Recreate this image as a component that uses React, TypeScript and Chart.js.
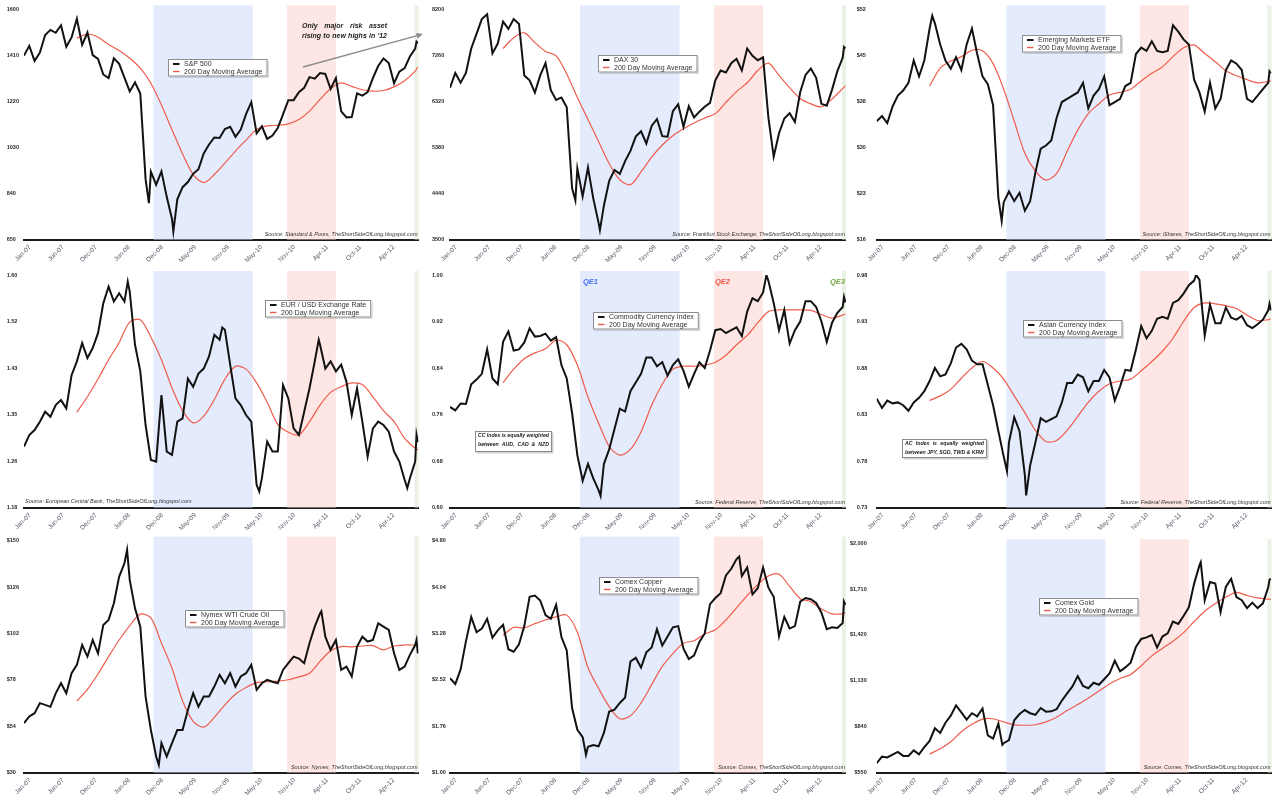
import React, { useEffect, useRef } from 'react';
import { Chart, registerables } from 'chart.js';

Chart.register(...registerables);

const FONT = '"Liberation Sans", Arial, sans-serif';

// x positions: weeks since first week of Jan 2007
const weeks = [0,4,8,12,16,20,24,28,32,36,40,44,48,52,56,60,64,68,72,76,80,84,88,92,96,100,104,108,112,116,120,124,128,132,136,140,144,148,152,156,160,164,168,172,176,180,184,188,192,196,200,204,208,212,216,220,224,228,232,236,240,244,248,252,256,260,264,268,272,276,280,284,288,292,296,297,298];
const maWeeks = [40,48,56,64,72,80,88,96,104,112,120,128,136,144,152,160,168,176,184,192,200,208,216,224,232,240,248,256,264,272,280,288,296,298];
const tickWeeks = [0,25,50,75,100,125,150,175,200,225,250,275];
const tickLabels = ['Jan-07','Jun-07','Dec-07','Jun-08','Dec-08','May-09','Nov-09','May-10','Nov-10','Apr-11','Oct-11','Apr-12'];

// QE1, QE2, QE3 shaded periods (weeks)
const qeStart = [98, 199, 295.5];
const qeEnd = [173, 236, 298.5];
const qeColors = ['rgba(222,232,252,0.85)', 'rgba(253,226,222,0.85)', 'rgba(232,240,226,0.9)'];

// S&P 500
const spx = [1409,1449,1387,1421,1494,1515,1503,1534,1445,1484,
  1561,1453,1504,1411,1395,1331,1316,1398,1375,1318,
  1261,1298,1252,899,930,876,931,826,735,816,
  866,887,921,940,1005,1042,1071,1069,1106,1115,
  1074,1104,1167,1217,1088,1117,1065,1079,1110,1166,
  1225,1225,1258,1276,1320,1314,1337,1333,1271,1316,
  1179,1154,1155,1253,1244,1258,1316,1366,1397,1378,
  1295,1343,1357,1405,1438,1466,1460];
const spxExW = [94.5, 113];
const spxExV = [800, 683];
const spxMA = [1481,1498,1485,1455,1430,1398,1357,1295,1205,1103,1003,918,885,918,965,1015,1060,1104,1119,1121,1127,1145,1180,1228,1272,1296,1282,1268,1262,1265,1280,1305,1345,1362];
const spxTicks = [650,840,1030,1220,1410,1600];
const spxLabels = ['650','840','1030','1220','1410','1600'];

// DAX 30
const dax = [6600,6900,6700,6900,7400,7700,8000,8100,7300,7500,
  7950,7800,8000,7900,6850,6750,6500,6850,7100,6550,
  6350,6400,6200,4550,4950,4380,4970,4340,3840,4190,
  4700,4920,4840,5100,5310,5600,5710,5460,5820,5960,
  5610,5600,6120,6260,5800,6220,5990,6110,6210,6290,
  6750,6950,6910,7100,7190,6950,7400,7250,7160,7220,
  5990,5190,5670,5970,6080,5900,6510,6860,6990,6800,
  6270,6230,6560,6940,7210,7430,7400];
const daxExW = [94.5, 113];
const daxExV = [4300, 3690];
const daxMA = [7400,7620,7720,7520,7340,7250,6880,6400,5950,5500,5050,4720,4620,4880,5180,5430,5620,5760,5880,5980,6070,6300,6520,6700,6950,7100,6850,6600,6380,6270,6210,6370,6580,6640];
const daxTicks = [3500,4440,5380,6320,7260,8200];
const daxLabels = ['3500','4440','5380','6320','7260','8200'];

// Emerging Markets ETF
const eem = [34.5,35.3,34.2,36.8,38.5,39.3,40.5,44.0,41.5,44.0,
  49.0,49.8,46.5,44.0,42.7,44.5,42.5,46.5,49.0,45.0,
  41.5,40.3,37.0,22.5,21.8,23.5,22.0,23.3,20.5,22.0,
  26.5,30.2,30.7,31.5,35.0,37.5,38.0,38.5,39.0,40.5,
  36.5,38.5,39.5,41.5,37.0,37.5,38.0,40.0,40.5,45.0,
  46.0,45.5,47.0,45.5,45.3,45.5,49.5,48.5,47.3,46.5,
  41.0,39.0,36.0,40.5,36.5,38.0,42.5,44.0,43.5,42.5,
  38.0,37.5,38.5,39.5,40.5,42.3,42.0];
const eemExW = [42, 94.5];
const eemExV = [51.0, 18.9];
const eemMA = [40.0,42.8,43.9,44.6,45.6,45.5,43.5,39.5,34.5,29.5,26.7,25.3,26.3,29.8,33.1,35.7,37.2,38.6,39.0,39.5,40.8,42.0,43.0,44.6,46.0,46.4,45.1,43.8,42.4,41.6,41.0,40.5,40.7,40.8];
const eemTicks = [16,23.2,30.4,37.6,44.8,52];
const eemLabels = ['$16','$23','$30','$38','$45','$52'];

// EUR / USD
const eur = [1.290,1.311,1.320,1.335,1.353,1.344,1.365,1.374,1.359,1.419,
  1.444,1.477,1.450,1.468,1.495,1.549,1.579,1.552,1.567,1.552,
  1.570,1.474,1.426,1.329,1.266,1.263,1.383,1.281,1.275,1.335,
  1.341,1.413,1.398,1.422,1.431,1.453,1.492,1.483,1.501,1.438,
  1.377,1.365,1.347,1.335,1.221,1.233,1.299,1.281,1.281,1.401,
  1.377,1.323,1.311,1.353,1.395,1.444,1.474,1.431,1.444,1.426,
  1.438,1.407,1.347,1.395,1.335,1.272,1.323,1.335,1.329,1.317,
  1.281,1.263,1.230,1.233,1.263,1.311,1.298];
const eurExW = [78.5, 150, 178, 223, 290];
const eurExV = [1.588, 1.505, 1.209, 1.483, 1.215];
const eurMA = [1.352,1.380,1.412,1.447,1.478,1.515,1.519,1.488,1.447,1.396,1.355,1.333,1.345,1.375,1.412,1.435,1.430,1.405,1.370,1.330,1.316,1.311,1.335,1.365,1.388,1.398,1.405,1.402,1.380,1.355,1.335,1.305,1.287,1.284];
const eurTicks = [1.18,1.264,1.348,1.432,1.516,1.60];
const eurLabels = ['1.18','1.26','1.35','1.43','1.52','1.60'];

// Commodity Currency Index
const cci = [0.773,0.767,0.779,0.778,0.812,0.820,0.830,0.872,0.822,0.812,
  0.885,0.903,0.870,0.872,0.884,0.908,0.894,0.895,0.899,0.887,
  0.893,0.845,0.822,0.763,0.690,0.646,0.675,0.650,0.630,0.675,
  0.700,0.735,0.770,0.765,0.800,0.815,0.830,0.858,0.858,0.843,
  0.850,0.827,0.845,0.855,0.835,0.808,0.830,0.850,0.840,0.870,
  0.905,0.907,0.900,0.905,0.910,0.895,0.937,0.960,0.955,0.970,
  0.990,0.952,0.905,0.940,0.882,0.905,0.920,0.955,0.955,0.945,
  0.920,0.885,0.918,0.935,0.945,0.962,0.953];
const cciExW = [113.5, 238.5];
const cciExV = [0.620, 1.000];
const cciMA = [0.815,0.838,0.856,0.866,0.873,0.888,0.880,0.845,0.790,0.745,0.705,0.690,0.700,0.730,0.776,0.812,0.838,0.843,0.843,0.845,0.850,0.862,0.880,0.896,0.918,0.937,0.940,0.940,0.940,0.939,0.932,0.926,0.931,0.933];
const cciTicks = [0.60,0.68,0.76,0.84,0.92,1.00];
const cciLabels = ['0.60','0.68','0.76','0.84','0.92','1.00'];

// Asian Currency Index
const aci = [0.847,0.837,0.845,0.842,0.843,0.840,0.834,0.843,0.848,0.855,
  0.866,0.880,0.871,0.873,0.885,0.902,0.906,0.900,0.888,0.884,
  0.884,0.862,0.840,0.812,0.785,0.800,0.827,0.812,0.765,0.775,
  0.800,0.826,0.822,0.825,0.828,0.843,0.864,0.864,0.873,0.870,
  0.855,0.866,0.866,0.878,0.870,0.845,0.860,0.878,0.877,0.900,
  0.925,0.912,0.920,0.933,0.935,0.933,0.950,0.953,0.960,0.969,
  0.974,0.975,0.915,0.948,0.928,0.928,0.945,0.934,0.932,0.936,
  0.926,0.923,0.927,0.932,0.942,0.949,0.942];
const aciExW = [98.5, 113, 241.5];
const aciExV = [0.769, 0.743, 0.980];
const aciMA = [0.845,0.850,0.857,0.869,0.880,0.887,0.880,0.868,0.850,0.832,0.813,0.801,0.802,0.813,0.828,0.843,0.855,0.863,0.866,0.868,0.877,0.887,0.898,0.912,0.930,0.945,0.950,0.949,0.947,0.944,0.937,0.931,0.932,0.933];
const aciTicks = [0.73,0.78,0.83,0.88,0.93,0.98];
const aciLabels = ['0.73','0.78','0.83','0.88','0.93','0.98'];

// Nymex WTI Crude Oil
const oil = [55.5,59,60.7,65.9,65,64,71,76.2,71,81.4,
  85.7,96,90,98.6,91.7,106.4,109,117.6,131.4,138.3,
  129.7,115,105.5,69.3,52,38.3,45.2,38.3,45.2,52,
  52,62.4,71,64.1,69.3,69.3,74.5,80.5,76.2,81.4,
  74.5,79.7,81.4,85.7,72.8,76.2,78,77,76.2,83.1,
  86.6,90,89,86.6,96.9,105.5,112.4,100.3,93.5,98.6,
  83.1,84.8,79.7,95.2,100.3,97.8,98.6,107.2,105.5,103.8,
  91.7,83.1,84.8,90.9,96,98.6,91.7];
const oilExW = [78, 102, 225];
const oilExV = [145.3, 34, 113.5];
const oilMA = [67,73,81,90,98.6,106,112,110,97,84,67,56.5,53.5,58.5,65,70.5,74,76.5,77,77.3,78,79.5,81.4,87.5,93,95.2,95,95.5,95.7,93.5,95.5,96,96,96];
const oilTicks = [30,54,78,102,126,150];
const oilLabels = ['$30','$54','$78','$102','$126','$150'];

// Comex Copper
const copper = [2.545,2.45,2.69,3.15,3.55,3.30,3.36,3.52,3.21,3.33,
  3.42,3.02,2.98,3.10,3.40,3.88,3.90,3.82,3.58,3.52,
  3.75,3.22,3.00,2.06,1.70,1.58,1.42,1.45,1.43,1.65,
  2.00,2.03,2.14,2.23,2.82,2.88,2.72,2.97,3.05,3.35,
  3.08,3.23,3.38,3.40,3.03,2.86,2.92,3.14,3.28,3.76,
  3.86,3.94,4.23,4.34,4.50,4.22,4.36,3.92,4.02,4.36,
  4.03,3.88,3.23,3.55,3.36,3.40,3.80,3.86,3.84,3.78,
  3.62,3.35,3.38,3.37,3.45,3.80,3.75];
const copperExW = [102.5, 218];
const copperExV = [1.29, 4.54];
const copperMA = [3.25,3.38,3.37,3.44,3.50,3.55,3.58,3.30,2.72,2.38,2.08,1.88,1.93,2.14,2.44,2.74,2.95,3.12,3.16,3.27,3.34,3.50,3.70,3.90,4.08,4.22,4.25,4.05,3.85,3.80,3.68,3.60,3.60,3.62];
const copperTicks = [1.00,1.76,2.52,3.28,4.04,4.80];
const copperLabels = ['$1.00','$1.76','$2.52','$3.28','$4.04','$4.80'];

// Comex Gold
const gold = [609,650,645,663,680,655,655,690,665,710,
  750,830,800,865,910,975,930,885,925,905,
  955,785,765,860,735,755,880,920,945,925,
  915,958,935,937,950,1005,1050,1095,1160,1097,
  1083,1118,1105,1140,1176,1257,1190,1215,1245,1345,
  1395,1405,1420,1340,1410,1430,1505,1490,1540,1595,
  1745,1860,1640,1755,1745,1565,1725,1775,1660,1640,
  1590,1625,1590,1620,1720,1770,1775];
const goldExW = [95, 245];
const goldExV = [725, 1880];
const goldMA = [667,700,745,808,855,888,890,870,851,849,852,870,900,942,980,1020,1065,1110,1145,1170,1225,1288,1335,1380,1435,1505,1570,1618,1660,1690,1670,1655,1647,1645];
const goldTicks = [550,840,1130,1420,1710,2000];
const goldLabels = ['$550','$840','$1,130','$1,420','$1,710','$2,000'];

const MA_LABEL = '200 Day Moving Average';

type PanelCfg = {
  name: string; values: number[]; ma: number[]; exW: number[]; exV: number[];
  yTicks: number[]; yLabels: string[]; source: string; sourceLeft?: boolean;
  legend: [number, number]; rightY?: boolean; kind?: string;
};

const panels: PanelCfg[] = [
  { name: 'S&P 500', values: spx, ma: spxMA, exW: spxExW, exV: spxExV, yTicks: spxTicks, yLabels: spxLabels, source: 'Source: Standard & Poors, TheShortSideOfLong.blogspot.com', legend: [168, 59], kind: 'spx' },
  { name: 'DAX 30', values: dax, ma: daxMA, exW: daxExW, exV: daxExV, yTicks: daxTicks, yLabels: daxLabels, source: 'Source: Frankfurt Stock Exchange, TheShortSideOfLong.blogspot.com', legend: [172, 55] },
  { name: 'Emerging Markets ETF', values: eem, ma: eemMA, exW: eemExW, exV: eemExV, yTicks: eemTicks, yLabels: eemLabels, source: 'Source: iShares, TheShortSideOfLong.blogspot.com', legend: [176, 35] },
  { name: 'EUR / USD Exchange Rate', values: eur, ma: eurMA, exW: eurExW, exV: eurExV, yTicks: eurTicks, yLabels: eurLabels, source: 'Source: European Central Bank, TheShortSideOfLong.blogspot.com', sourceLeft: true, legend: [265, 35] },
  { name: 'Commodity Currency Index', values: cci, ma: cciMA, exW: cciExW, exV: cciExV, yTicks: cciTicks, yLabels: cciLabels, source: 'Source: Federal Reserve, TheShortSideOfLong.blogspot.com', legend: [167, 47], kind: 'cc' },
  { name: 'Asian Currency Index', values: aci, ma: aciMA, exW: aciExW, exV: aciExV, yTicks: aciTicks, yLabels: aciLabels, source: 'Source: Federal Reserve, TheShortSideOfLong.blogspot.com', legend: [177, 55], kind: 'ac' },
  { name: 'Nymex WTI Crude Oil', values: oil, ma: oilMA, exW: oilExW, exV: oilExV, yTicks: oilTicks, yLabels: oilLabels, source: 'Source: Nymex, TheShortSideOfLong.blogspot.com', legend: [185, 80] },
  { name: 'Comex Copper', values: copper, ma: copperMA, exW: copperExW, exV: copperExV, yTicks: copperTicks, yLabels: copperLabels, source: 'Source: Comex, TheShortSideOfLong.blogspot.com', legend: [173, 47] },
  { name: 'Comex Gold', values: gold, ma: goldMA, exW: goldExW, exV: goldExV, yTicks: goldTicks, yLabels: goldLabels, source: 'Source: Comex, TheShortSideOfLong.blogspot.com', legend: [193, 68], rightY: true },
];

// layout geometry
const colLeft = [0, 426, 846];
const colWidth = [426, 420, 434];
const colL = [24, 24, 30.7];
const colR = [418.5, 420.5, 425.5];
const colPadL = [6.7, 6, 10.7];
const rowTop = [0, 265, 530];
const rowHeight = [265, 265, 268];
const rowT = [9.3, 10, 10.7];
const rowB = [239.5, 242.5, 242.5];

function toPoints(ws: number[], vs: number[], exW: number[] = [], exV: number[] = []) {
  const p = ws.map((w, i) => ({ x: w, y: vs[i] })).concat(exW.map((w, i) => ({ x: w, y: exV[i] })));
  p.sort((a, b) => a.x - b.x);
  return p;
}

function justify(ctx: CanvasRenderingContext2D, text: string, x: number, y: number, w: number) {
  const words = text.split(' ');
  const widths = words.map((t) => ctx.measureText(t).width);
  const total = widths.reduce((a, b) => a + b, 0);
  const gap = words.length > 1 ? (w - total) / (words.length - 1) : 0;
  let cx = x;
  words.forEach((t, i) => {
    ctx.fillText(t, cx, y);
    cx += widths[i] + gap;
  });
}

function fitFont(ctx: CanvasRenderingContext2D, lines: string[], w: number, start: number, style: string) {
  let s = start;
  for (;;) {
    ctx.font = `${style} ${s}px ${FONT}`;
    const ok = lines.every((l) => {
      const words = l.split(' ');
      const tot = words.reduce((a, t) => a + ctx.measureText(t).width, 0);
      return tot + (words.length - 1) * 1.3 <= w;
    });
    if (ok || s < 3.5) break;
    s -= 0.2;
  }
}

function noteBox(ctx: CanvasRenderingContext2D, x: number, y: number, w: number, h: number, lines: string[], ys: number[]) {
  ctx.save();
  ctx.fillStyle = 'rgba(0,0,0,0.18)';
  ctx.fillRect(x + 1.5, y + 1.5, w, h);
  ctx.fillStyle = '#ffffff';
  ctx.fillRect(x, y, w, h);
  ctx.strokeStyle = '#8a8a8a';
  ctx.lineWidth = 1;
  ctx.strokeRect(x + 0.5, y + 0.5, w - 1, h - 1);
  ctx.fillStyle = '#1e1e1e';
  ctx.textBaseline = 'middle';
  fitFont(ctx, lines, w - 6, 5.2, 'italic bold');
  lines.forEach((l, i) => justify(ctx, l, x + 3, y + ys[i], w - 6));
  ctx.restore();
}

const bandPlugin = {
  id: 'qeBands',
  beforeDatasetsDraw(chart: any) {
    const { ctx, chartArea: a, scales } = chart;
    const x = scales.x;
    ctx.save();
    qeStart.forEach((s, i) => {
      const x0 = x.getPixelForValue(s);
      const x1 = x.getPixelForValue(qeEnd[i]);
      ctx.fillStyle = qeColors[i];
      ctx.fillRect(x0, a.top - 4, x1 - x0, a.bottom - a.top + 4);
    });
    ctx.restore();
  },
};

function makeDecor(cfg: PanelCfg) {
  return {
    id: 'decor',
    afterDraw(chart: any) {
      const { ctx, chartArea: a } = chart;
      ctx.save();
      // legend
      const [lx, ly] = cfg.legend;
      ctx.font = `7px ${FONT}`;
      const tw = Math.max(ctx.measureText(cfg.name).width, ctx.measureText(MA_LABEL).width);
      const lw = tw + 21;
      const lh = 17.5;
      ctx.fillStyle = 'rgba(0,0,0,0.14)';
      ctx.fillRect(lx + 1.5, ly + 1.5, lw, lh);
      ctx.fillStyle = '#ffffff';
      ctx.fillRect(lx, ly, lw, lh);
      ctx.strokeStyle = '#8d8d8d';
      ctx.lineWidth = 1;
      ctx.strokeRect(lx + 0.5, ly + 0.5, lw - 1, lh - 1);
      const ds = chart.data.datasets;
      const rows = [ly + 5, ly + 12.5];
      rows.forEach((ry, i) => {
        ctx.strokeStyle = ds[i].borderColor;
        ctx.lineWidth = i === 0 ? 2 : 1.4;
        ctx.beginPath();
        ctx.moveTo(lx + 5, ry);
        ctx.lineTo(lx + 11.5, ry);
        ctx.stroke();
        ctx.fillStyle = '#333333';
        ctx.textBaseline = 'middle';
        ctx.textAlign = 'left';
        ctx.fillText(ds[i].label, lx + 16, ry + 0.5);
      });
      // source
      ctx.font = `italic 5.5px ${FONT}`;
      ctx.fillStyle = '#333333';
      ctx.textBaseline = 'middle';
      if (cfg.sourceLeft) {
        ctx.textAlign = 'left';
        ctx.fillText(cfg.source, a.left + 1, a.bottom - 6);
      } else {
        ctx.textAlign = 'right';
        ctx.fillText(cfg.source, a.right - 1, a.bottom - 5);
      }
      ctx.textAlign = 'left';
      if (cfg.kind === 'spx') {
        ctx.font = `italic bold 7px ${FONT}`;
        ctx.fillStyle = '#222222';
        ctx.textBaseline = 'middle';
        justify(ctx, 'Only major risk asset', 302, 26, 85);
        justify(ctx, "rising to new highs in '12", 302, 36, 85);
        const x0 = 303, y0 = 67, x1 = 423, y1 = 34;
        const ang = Math.atan2(y1 - y0, x1 - x0);
        ctx.strokeStyle = '#8c8c8c';
        ctx.fillStyle = '#8c8c8c';
        ctx.lineWidth = 1.3;
        ctx.beginPath();
        ctx.moveTo(x0, y0);
        ctx.lineTo(x1 - 5 * Math.cos(ang), y1 - 5 * Math.sin(ang));
        ctx.stroke();
        ctx.beginPath();
        ctx.moveTo(x1, y1);
        ctx.lineTo(x1 - 6.5 * Math.cos(ang) + 2.8 * Math.sin(ang), y1 - 6.5 * Math.sin(ang) - 2.8 * Math.cos(ang));
        ctx.lineTo(x1 - 6.5 * Math.cos(ang) - 2.8 * Math.sin(ang), y1 - 6.5 * Math.sin(ang) + 2.8 * Math.cos(ang));
        ctx.closePath();
        ctx.fill();
      }
      if (cfg.kind === 'cc') {
        ctx.font = `italic bold 7.5px ${FONT}`;
        ctx.textBaseline = 'middle';
        ctx.fillStyle = '#4a74f0';
        ctx.fillText('QE1', 157, 17);
        ctx.fillStyle = '#ee5646';
        ctx.fillText('QE2', 289, 17);
        ctx.fillStyle = '#78a84a';
        ctx.fillText('QE3', 404, 17);
        noteBox(ctx, 49, 166, 77, 21, ['CC Index is equally weighted', 'between AUD, CAD & NZD'], [5, 13.5]);
      }
      if (cfg.kind === 'ac') {
        noteBox(ctx, 56, 174, 85, 19, ['AC Index is equally weighted', 'between JPY, SGD, TWD & KRW'], [5, 13.5]);
      }
      ctx.restore();
    },
  };
}

function Panel({ cfg, idx }: { cfg: PanelCfg; idx: number }) {
  const ref = useRef<HTMLCanvasElement | null>(null);
  const col = idx % 3;
  const row = Math.floor(idx / 3);
  const W = colWidth[col];
  const H = rowHeight[row];
  useEffect(() => {
    if (!ref.current) return;
    const L = colL[col], R = colR[col], T = rowT[row], B = rowB[row];
    // right-aligned labels need the full axis box so they are not clipped
    const padL = cfg.rightY ? 0 : colPadL[col];
    const chart = new Chart(ref.current, {
      type: 'line',
      data: {
        datasets: [
          { label: cfg.name, data: toPoints(weeks, cfg.values, cfg.exW, cfg.exV), borderColor: '#121212', borderWidth: 2, pointRadius: 0, tension: 0, fill: false },
          { label: MA_LABEL, data: toPoints(maWeeks, cfg.ma), borderColor: '#ef5c4c', borderWidth: 1.2, pointRadius: 0, tension: 0.3, fill: false },
        ],
      },
      options: {
        animation: false,
        responsive: false,
        events: [],
        layout: { padding: { left: padL, right: W - R, top: T, bottom: 0 } },
        plugins: { legend: { display: false }, tooltip: { enabled: false } },
        scales: {
          x: {
            type: 'linear',
            min: 0,
            max: 298.5,
            afterBuildTicks: (s: any) => { s.ticks = tickWeeks.map((v) => ({ value: v })); },
            afterFit: (s: any) => { s.height = H - B; },
            grid: { display: false, drawTicks: false },
            border: { display: true, color: '#1c1c1c', width: 2 },
            ticks: {
              autoSkip: false, minRotation: 45, maxRotation: 45, padding: 4, labelOffset: 6,
              color: '#535a66', font: { family: FONT, size: 6.5 },
              callback: (v: any) => { const k = tickWeeks.indexOf(Number(v)); return k >= 0 ? tickLabels[k] : ''; },
            },
          },
          y: {
            type: 'linear',
            min: cfg.yTicks[0],
            max: cfg.yTicks[cfg.yTicks.length - 1],
            afterBuildTicks: (s: any) => { s.ticks = cfg.yTicks.map((v) => ({ value: v })); },
            afterFit: (s: any) => { s.width = L - padL; },
            grid: { display: false, drawTicks: false },
            border: { display: false },
            ticks: {
              crossAlign: cfg.rightY ? 'near' : 'far',
              padding: cfg.rightY ? 10 : 0,
              color: '#2a2a2a',
              font: { family: FONT, size: 5.5, weight: 'bold' },
              callback: (_v: any, i: number) => cfg.yLabels[i],
            },
          },
        },
      } as any,
      plugins: [bandPlugin, makeDecor(cfg)],
    });
    return () => chart.destroy();
  }, []);
  return (
    <div style={{ position: 'absolute', left: colLeft[col], top: rowTop[row], width: W, height: H }}>
      <canvas ref={ref} width={W} height={H} style={{ width: W, height: H, display: 'block' }} />
    </div>
  );
}

export default function App() {
  return (
    <div style={{ position: 'absolute', left: 0, top: 0, width: 1280, height: 798, background: '#ffffff', overflow: 'hidden' }}>
      {panels.map((p, i) => (
        <Panel key={i} cfg={p} idx={i} />
      ))}
    </div>
  );
}
